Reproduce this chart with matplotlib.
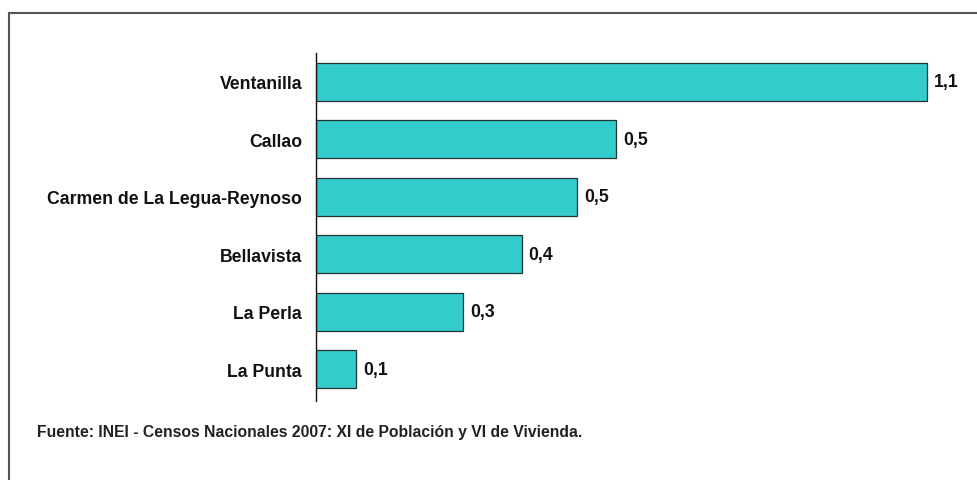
import matplotlib
matplotlib.use("Agg")
import matplotlib.pyplot as plt
from matplotlib.lines import Line2D

categories = ["Ventanilla", "Callao", "Carmen de La Legua-Reynoso", "Bellavista", "La Perla", "La Punta"]
values = [1.10, 0.54, 0.47, 0.37, 0.265, 0.072]
value_labels = ["1,1", "0,5", "0,5", "0,4", "0,3", "0,1"]
source_text = "Fuente: INEI - Censos Nacionales 2007: XI de Población y VI de Vivienda."

plt.rcParams['font.family'] = ["Liberation Sans", "DejaVu Sans"]

W, H = 978, 481
fig = plt.figure(figsize=(W/100, H/100), dpi=100)
ax = fig.add_axes([316/W, 1-402/H, (960-316)/W, (402-54)/H])

y = list(range(len(categories)))
ax.barh(y, values, height=0.66, color="#33CCCC", edgecolor="#223333", linewidth=0.9)
ax.set_ylim(len(categories)-0.45, -0.5)
ax.set_xlim(0, 1.10*644/611)
ax.set_yticks(y)
ax.set_yticklabels(categories, fontsize=12.7, fontweight="bold", color="#111111")
ax.tick_params(axis="y", length=0, pad=10)
ax.set_xticks([])
for s in ["top", "right", "bottom"]:
    ax.spines[s].set_visible(False)
ax.spines["left"].set_color("#111111")
ax.spines["left"].set_linewidth(1.0)

for yi, v, lab in zip(y, values, value_labels):
    ax.annotate(lab, (v, yi), xytext=(5, 0), textcoords="offset points",
                va="center", ha="left", fontsize=12.7, fontweight="bold", color="#111111")

fig.text(37/W, 1-432/H, source_text, fontsize=11.3, fontweight="bold", color="#222222",
         va="center", ha="left")

# frame lines (top and left)
fig.add_artist(Line2D([8.5/W, 8.5/W], [0, 1-13.5/H], transform=fig.transFigure, color="#555555", lw=1.5))
fig.add_artist(Line2D([8.5/W, 977/W], [1-13.5/H, 1-13.5/H], transform=fig.transFigure, color="#555555", lw=1.5))

fig.savefig("out.png", dpi=100)
